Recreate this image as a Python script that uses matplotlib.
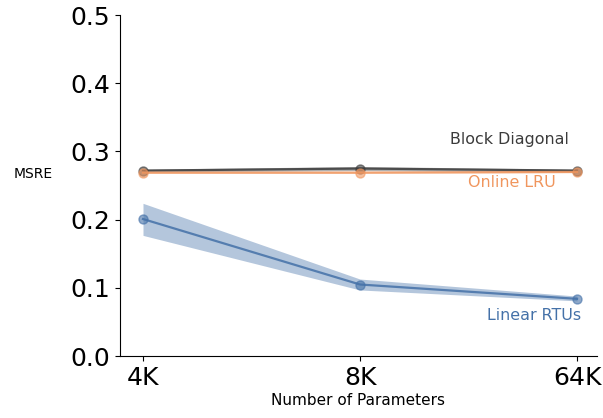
import numpy as np
import matplotlib.pyplot as plt

params = ['4K', '8K', '64K']

block_mean = [0.272, 0.275, 0.272]
block_lo = [0.270, 0.272, 0.270]
block_hi = [0.274, 0.278, 0.274]

lru_mean = [0.269, 0.269, 0.270]
lru_lo = [0.268, 0.268, 0.269]
lru_hi = [0.270, 0.270, 0.271]

rtu_mean = [0.201, 0.105, 0.084]
rtu_lo = [0.177, 0.097, 0.081]
rtu_hi = [0.224, 0.113, 0.088]

series = [
    ('Block Diagonal', block_mean, block_lo, block_hi, '#3b3b3b', (1.69, 0.317)),
    ('Online LRU', lru_mean, lru_lo, lru_hi, '#f0965e', (1.70, 0.255)),
    ('Linear RTUs', rtu_mean, rtu_lo, rtu_hi, '#4471a8', (1.80, 0.059)),
]

fig = plt.figure(figsize=(6.03, 4.18), dpi=100)
ax = fig.add_axes([0.199, 0.148, 0.791, 0.816])
x = np.arange(len(params))

for name, m, lo, hi, c, (tx, ty) in series:
    ax.fill_between(x, lo, hi, color=c, alpha=0.4, linewidth=0)
    ax.plot(x, m, color=c, linewidth=1.6, alpha=0.85)
    ax.plot(x, m, linestyle='none', marker='o', markersize=6.5,
            markerfacecolor=c, markeredgecolor=c, alpha=0.6)
    ax.text(tx, ty, name, color=c, fontsize=11.4, ha='center', va='center')

ax.set_xticks(x)
ax.set_xticklabels(params)
ax.set_xlim(-0.106, 2.092)
ax.set_ylim(0, 0.5)
ax.set_yticks(np.arange(0, 0.51, 0.1))
ax.tick_params(labelsize=18)
ax.spines['top'].set_visible(False)
ax.spines['right'].set_visible(False)
ax.set_xlabel('Number of Parameters', fontsize=11, labelpad=2)
ax.set_ylabel('MSRE', fontsize=10, rotation=0)
ax.yaxis.set_label_coords(-0.183, 0.512)

fig.savefig('out.png', dpi=100)
